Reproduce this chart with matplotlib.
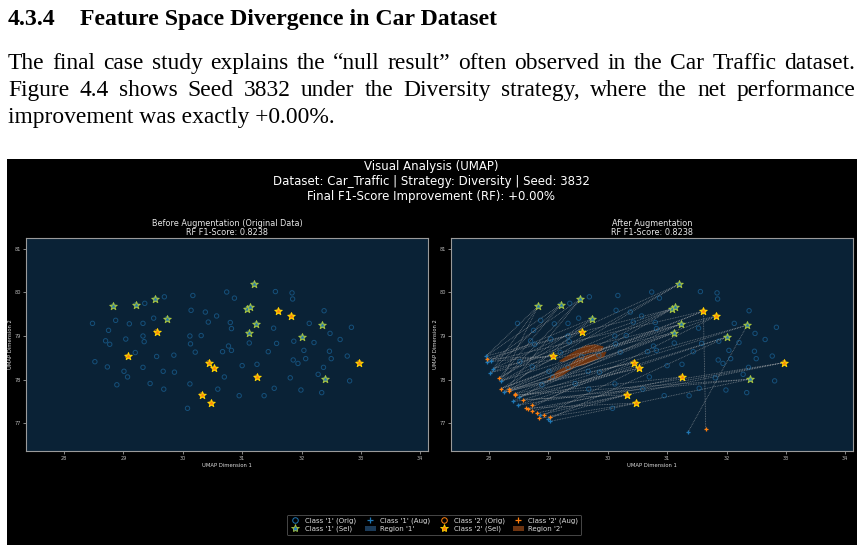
import matplotlib
matplotlib.use("Agg")
import matplotlib.pyplot as plt
from matplotlib.patches import Rectangle, Patch, Polygon
from matplotlib.lines import Line2D

W, H = 863, 545
DPI = 100

# ---------------- data ----------------
c1_orig_x = [28.48, 28.52, 28.70, 28.75, 28.77, 28.73, 28.87, 28.89, 29.04, 29.10, 29.07, 29.01, 29.20,
             29.36, 29.33, 29.33, 29.35, 29.33, 29.45, 29.51, 29.56, 29.69, 29.67, 29.68, 29.85, 29.86,
             30.17, 30.14, 30.12, 30.13, 30.21, 30.12, 30.08, 30.31, 30.38, 30.43, 30.57, 30.59, 30.67,
             30.70, 30.74, 30.87, 30.80, 30.82, 30.77, 30.82, 31.00, 30.95, 31.12, 31.25, 31.37, 31.44,
             31.53, 31.56, 31.58, 31.54, 31.84, 31.85, 31.87, 31.86, 31.94, 31.81, 31.99, 32.04, 32.07,
             32.13, 32.21, 32.28, 32.34, 32.37, 32.38, 32.48, 32.47, 32.50, 32.65, 32.84, 32.77, 32.81]
c1_orig_y = [79.29, 78.41, 78.89, 79.13, 78.81, 78.29, 79.36, 77.88, 78.93, 79.28, 78.06, 78.19, 78.62,
             79.75, 79.29, 79.00, 78.87, 78.28, 77.91, 79.41, 78.53, 79.90, 78.19, 77.78, 78.56, 78.17,
             79.93, 79.59, 79.00, 78.82, 78.63, 77.90, 77.34, 79.01, 79.55, 79.32, 79.46, 77.78, 78.64,
             78.06, 80.01, 79.87, 79.31, 79.17, 78.77, 78.67, 78.32, 77.63, 78.84, 78.35, 77.63, 78.64,
             79.18, 80.02, 78.83, 77.80, 79.99, 79.85, 78.88, 78.45, 78.37, 78.04, 77.76, 78.67, 78.48,
             79.29, 78.85, 78.12, 77.70, 78.28, 79.58, 79.06, 78.65, 78.48, 78.92, 79.20, 78.54, 77.97]

# selected class '1' points (also part of the original class '1' data)
c1_sel_x = [28.83, 29.21, 29.54, 29.74, 31.20, 31.08, 31.14, 31.24, 31.11, 32.01, 32.35, 32.40]
c1_sel_y = [79.69, 79.72, 79.85, 79.40, 80.19, 79.62, 79.66, 79.28, 79.07, 78.98, 79.25, 78.01]

# class '2' originals (all selected)
c2_sel_x = [29.56, 29.07, 30.44, 30.53, 30.32, 30.48, 31.61, 31.83, 31.25, 32.97]
c2_sel_y = [79.10, 78.53, 78.39, 78.26, 77.65, 77.46, 79.57, 79.46, 78.06, 78.39]

c1_aug_x = [27.95, 27.96, 28.03, 28.07, 28.02, 28.20, 28.25, 28.41, 28.48, 28.51, 28.86, 29.03, 29.00, 31.35]
c1_aug_y = [78.54, 78.41, 78.43, 78.25, 78.16, 77.96, 77.71, 77.50, 77.41, 77.60, 77.19, 77.04, 77.09, 76.79]

c2_aug_x = [27.96, 28.17, 28.20, 28.34, 28.33, 28.43, 28.43, 28.58, 28.62, 28.66, 28.72, 28.72, 28.80,
            28.85, 28.93, 29.02, 31.65]
c2_aug_y = [78.48, 78.03, 77.79, 77.78, 77.73, 77.67, 77.64, 77.54, 77.34, 77.32, 77.41, 77.28, 77.23,
            77.11, 77.19, 77.15, 76.87]

# links: (selected star, augmented point); stars 'g#' = class 1 sel, 'o#' = class 2 sel
links = [("g0", "b0"), ("g0", "b5"), ("g0", "b3"), ("g1", "b0"), ("g1", "b4"), ("g1", "a1"),
         ("g2", "b2"), ("g2", "b5"), ("g2", "b6"), ("g3", "b1"), ("g3", "b6"), ("g3", "a1"),
         ("g4", "b3"), ("g4", "a2"), ("g4", "b5"), ("g5", "b0"), ("g5", "b7"), ("g5", "b5"),
         ("g6", "b4"), ("g6", "a3"), ("g7", "b5"), ("g7", "b9"), ("g7", "a2"), ("g8", "b6"),
         ("g8", "a5"), ("g8", "b4"), ("g9", "b8"), ("g9", "b12"), ("g9", "a7"), ("g10", "b13"),
         ("g10", "b9"), ("g10", "a4"), ("g11", "b11"), ("g11", "b7"), ("g11", "a6"),
         ("o0", "a1"), ("o0", "a0"), ("o1", "a0"), ("o1", "b1"), ("o2", "a3"), ("o2", "a10"),
         ("o2", "b6"), ("o3", "a5"), ("o3", "a14"), ("o3", "b9"), ("o4", "a7"), ("o4", "a15"),
         ("o4", "b10"), ("o5", "a8"), ("o5", "a13"), ("o6", "a16"), ("o6", "a2"), ("o6", "b2"),
         ("o6", "a3"), ("o7", "a4"), ("o7", "a9"), ("o7", "b3"), ("o8", "a6"), ("o8", "a11"),
         ("o9", "a12"), ("o9", "b8"), ("o9", "a9")]

# region '2' (decision region fragments in the augmented view)
region2_a_x = [29.17, 29.40, 29.62, 29.78, 29.93, 29.90, 29.72, 29.55, 29.40, 29.25]
region2_a_y = [78.42, 78.62, 78.78, 78.81, 78.76, 78.66, 78.62, 78.56, 78.48, 78.40]
region2_b_x = [28.98, 29.15, 29.35, 29.50, 29.68, 29.82, 29.98, 29.94, 29.78, 29.60, 29.46, 29.40,
               29.25, 29.08]
region2_b_y = [77.99, 78.20, 78.34, 78.50, 78.57, 78.60, 78.64, 78.52, 78.44, 78.33, 78.30, 78.24,
               78.10, 77.99]

x_ticks = [28, 29, 30, 31, 32, 33, 34]
y_ticks = [77, 78, 79, 80, 81]

heading_num = "4.3.4"
heading = "Feature Space Divergence in Car Dataset"
body = ["The final case study explains the \u201cnull result\u201d often observed in the Car Traffic dataset.",
        "Figure 4.4 shows Seed 3832 under the Diversity strategy, where the net performance",
        "improvement was exactly +0.00%."]

main_title = ("Visual Analysis (UMAP)\nDataset: Car_Traffic | Strategy: Diversity | Seed: 3832\n"
              "Final F1-Score Improvement (RF): +0.00%")
left_title = "Before Augmentation (Original Data)\nRF F1-Score: 0.8238"
right_title = "After Augmentation\nRF F1-Score: 0.8238"

# ---------------- style ----------------
C1 = "#1f77b4"
C2 = "#ff7f0e"
STAR_EDGE1 = "#a9c43c"
STAR_EDGE2 = "gold"
AX_BG = "#0a2236"
REG1 = "#1b3a57"
REG2 = "#6e3410"
SPINE = "#9a9a9a"
TXT = "#e8e8e8"

fig = plt.figure(figsize=(W / DPI, H / DPI), dpi=DPI, facecolor="white")
fig.patches.append(Rectangle((7 / W, 0), 850 / W, (H - 159) / H, transform=fig.transFigure,
                             facecolor="black", edgecolor="none", zorder=-5))

renderer = fig.canvas.get_renderer()
SERIF = ["Liberation Serif", "DejaVu Serif"]


def px(x, y):
    return x / W, 1 - y / H


# heading
t = fig.text(*px(8, 25), heading_num, fontsize=15, family=SERIF, weight="bold", va="baseline")
t2 = fig.text(*px(80, 25), heading, fontsize=15, family=SERIF, weight="bold", va="baseline")
w = t2.get_window_extent(renderer).width
fs_h = 15 * 417 / w
t.set_fontsize(fs_h)
t2.set_fontsize(fs_h)

# body: fit font size by the last (unjustified) line
probe = fig.text(0, 0, body[2], fontsize=15, family=SERIF)
fs_b = 15 * 329 / probe.get_window_extent(renderer).width
probe.remove()
baselines = [69, 96, 123]
for i, line in enumerate(body):
    if i < 2:
        words = line.split(" ")
        ts = [fig.text(0, 1 - baselines[i] / H, wd, fontsize=fs_b, family=SERIF, va="baseline")
              for wd in words]
        ws = [tt.get_window_extent(renderer).width for tt in ts]
        gap = (855 - 8 - sum(ws)) / (len(words) - 1)
        xx = 8
        for tt, ww in zip(ts, ws):
            tt.set_x(xx / W)
            xx += ww + gap
    else:
        fig.text(8 / W, 1 - baselines[i] / H, line, fontsize=fs_b, family=SERIF, va="baseline")

# main title
fig.text(431 / W, 1 - 160 / H, main_title, ha="center", va="top", color="white",
         fontsize=8.5, linespacing=1.2)

axL = fig.add_axes([26 / W, 1 - 451 / H, 402 / W, 213 / H])
axR = fig.add_axes([451 / W, 1 - 451 / H, 402 / W, 213 / H])

stars = {}
for i, (x, y) in enumerate(zip(c1_sel_x, c1_sel_y)):
    stars["g%d" % i] = (x, y)
for i, (x, y) in enumerate(zip(c2_sel_x, c2_sel_y)):
    stars["o%d" % i] = (x, y)
augs = {}
for i, (x, y) in enumerate(zip(c1_aug_x, c1_aug_y)):
    augs["b%d" % i] = (x, y)
for i, (x, y) in enumerate(zip(c2_aug_x, c2_aug_y)):
    augs["a%d" % i] = (x, y)

for ax, title, after in [(axL, left_title, False), (axR, right_title, True)]:
    ax.set_facecolor(AX_BG)
    if after:
        for rx, ry in [(region2_a_x, region2_a_y), (region2_b_x, region2_b_y)]:
            ax.add_patch(Polygon(list(zip(rx, ry)), closed=True, facecolor=REG2, edgecolor="none",
                                 zorder=1))
        for s, a in links:
            sx, sy = stars[s]
            ax_, ay = augs[a]
            ax.plot([sx, ax_], [sy, ay], linestyle=(0, (1, 1)), color="#c0c0c0", lw=0.6,
                    alpha=0.55, zorder=2)
    ax.scatter(c1_orig_x + c1_sel_x, c1_orig_y + c1_sel_y, s=10, facecolors="none",
               edgecolors=C1, linewidths=0.7, alpha=0.55, zorder=3)
    ax.scatter(c2_sel_x, c2_sel_y, s=10, facecolors="none", edgecolors=C2, linewidths=0.7,
               alpha=0.55, zorder=3)
    if after:
        ax.scatter(c1_aug_x, c1_aug_y, s=12, marker="+", color=C1, linewidths=0.9, zorder=4)
        ax.scatter(c2_aug_x, c2_aug_y, s=12, marker="+", color=C2, linewidths=0.9, zorder=4)
    ax.scatter(c1_sel_x, c1_sel_y, s=32, marker="*", facecolors=C1, edgecolors=STAR_EDGE1,
               linewidths=0.7, zorder=5)
    ax.scatter(c2_sel_x, c2_sel_y, s=32, marker="*", facecolors=C2, edgecolors=STAR_EDGE2,
               linewidths=0.7, zorder=5)
    ax.set_xlim(27.36, 34.13)
    ax.set_ylim(76.36, 81.25)
    ax.set_xticks(x_ticks)
    ax.set_yticks(y_ticks)
    ax.tick_params(colors="#bbbbbb", labelsize=3.6, length=2, width=0.5, pad=1.5)
    for sp in ax.spines.values():
        sp.set_color(SPINE)
        sp.set_linewidth(0.8)
    ax.set_xlabel("UMAP Dimension 1", fontsize=3.8, color="#dddddd", labelpad=1.5)
    ax.set_ylabel("UMAP Dimension 2", fontsize=3.8, color="#dddddd", labelpad=1.5)
    ax.set_title(title, fontsize=5.9, color=TXT, pad=2, linespacing=1.05)

handles = [
    Line2D([], [], marker="o", ls="none", markerfacecolor="none", markeredgecolor=C1, markersize=4,
           markeredgewidth=0.7, label="Class '1' (Orig)"),
    Line2D([], [], marker="*", ls="none", markerfacecolor=C1, markeredgecolor=STAR_EDGE1, markersize=6,
           markeredgewidth=0.6, label="Class '1' (Sel)"),
    Line2D([], [], marker="+", ls="none", color=C1, markersize=4, markeredgewidth=0.9,
           label="Class '1' (Aug)"),
    Patch(facecolor=REG1, edgecolor="none", label="Region '1'"),
    Line2D([], [], marker="o", ls="none", markerfacecolor="none", markeredgecolor=C2, markersize=4,
           markeredgewidth=0.7, label="Class '2' (Orig)"),
    Line2D([], [], marker="*", ls="none", markerfacecolor=C2, markeredgecolor=STAR_EDGE2, markersize=6,
           markeredgewidth=0.6, label="Class '2' (Sel)"),
    Line2D([], [], marker="+", ls="none", color=C2, markersize=4, markeredgewidth=0.9,
           label="Class '2' (Aug)"),
    Patch(facecolor=REG2, edgecolor="none", label="Region '2'"),
]
leg = fig.legend(handles=handles, loc="center", bbox_to_anchor=(434 / W, 1 - 525 / H), ncol=4,
                 fontsize=5.0, frameon=True, facecolor="black", edgecolor="#666666",
                 labelcolor="#dddddd", handlelength=1.6, handleheight=0.8, columnspacing=1.2,
                 borderpad=0.4, labelspacing=0.25, handletextpad=0.6)
leg.get_frame().set_linewidth(0.6)

fig.savefig("out.png", dpi=DPI, facecolor=fig.get_facecolor())
